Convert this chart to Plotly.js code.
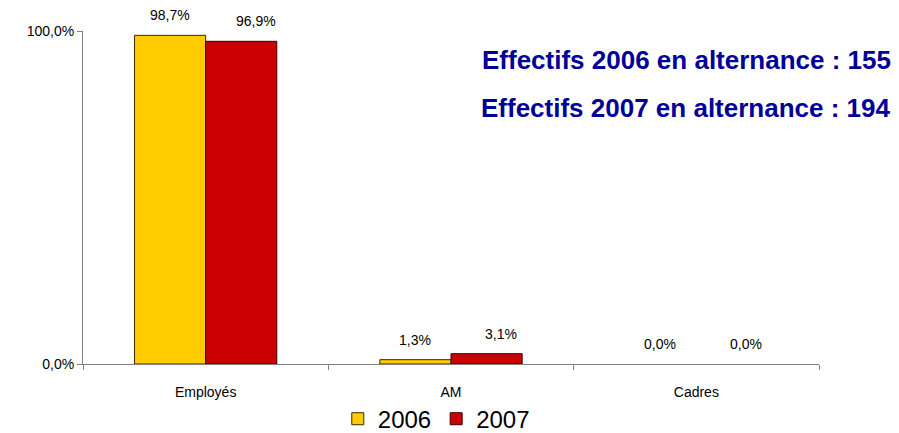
<!DOCTYPE html>
<html>
<head>
<meta charset="utf-8">
<script src="https://cdn.plot.ly/plotly-3.0.1.min.js"></script>
<style>html,body{margin:0;padding:0;background:#fff}#chart{width:899px;height:433px}</style>
</head>
<body>
<div id="chart"></div>
<script>
const categories = ["Employés", "AM", "Cadres"];
const series2006 = [98.7, 1.3, 0.0];
const series2007 = [96.9, 3.1, 0.0];
const seriesNames = ["2006", "2007"];
const yTickValues = [0, 100];
const headlines = ["Effectifs 2006 en alternance : 155", "Effectifs 2007 en alternance : 194"];

const fmt = v => v.toFixed(1).replace(".", ",") + "%";
const FONT = "Liberation Sans, Arial, sans-serif";

const traces = [
  {type: "bar", name: seriesNames[0], x: categories, y: series2006,
   marker: {color: "#FFCC00", line: {color: "#3a2a00", width: series2006.map(v => v > 0 ? 1 : 0)}}, hoverinfo: "none"},
  {type: "bar", name: seriesNames[1], x: categories, y: series2007,
   marker: {color: "#CC0000", line: {color: "#3a0000", width: series2007.map(v => v > 0 ? 1 : 0)}}, hoverinfo: "none"}
];

const annotations = [];
categories.forEach((c, i) => {
  annotations.push({x: c, y: series2006[i], text: fmt(series2006[i]), showarrow: false,
    xshift: -36, yshift: 10, yanchor: "bottom", font: {family: FONT, size: 14, color: "#000"}});
  annotations.push({x: c, y: series2007[i], text: fmt(series2007[i]), showarrow: false,
    xshift: 50, yshift: 10, yanchor: "bottom", font: {family: FONT, size: 14, color: "#000"}});
});
headlines.forEach((t, i) => {
  annotations.push({xref: "paper", yref: "paper", x: 1.1005, xanchor: "right",
    y: i === 0 ? 0.913 : 0.769, yanchor: "middle", text: "<b>" + t + "</b>", showarrow: false,
    font: {family: FONT, size: 26, color: "#000099"}});
});

const layout = {
  width: 899, height: 433,
  margin: {l: 83, r: 80, t: 31, b: 69, autoexpand: false},
  paper_bgcolor: "#fff", plot_bgcolor: "#fff",
  barmode: "group", bargap: 0.42, bargroupgap: 0,
  showlegend: true,
  legend: {orientation: "h", x: 0.48, xanchor: "center", y: -0.098, yanchor: "top",
    bgcolor: "rgba(0,0,0,0)",
    font: {family: FONT, size: 24, color: "#000"}, itemwidth: 30, traceorder: "normal"},
  xaxis: {type: "category", showgrid: false, zeroline: false, showline: true,
    linecolor: "#808080", linewidth: 1, ticks: "outside", tickson: "boundaries",
    ticklen: 5, tickcolor: "#808080", ticklabelstandoff: 15,
    tickfont: {family: FONT, size: 14, color: "#000"}, fixedrange: true},
  yaxis: {range: [0, 100], showgrid: false, zeroline: false, showline: true,
    linecolor: "#808080", linewidth: 1, ticks: "outside", ticklen: 5, tickcolor: "#808080",
    tickvals: yTickValues, ticktext: yTickValues.map(fmt),
    tickfont: {family: FONT, size: 14, color: "#000"}, fixedrange: true},
  annotations: annotations,
  font: {family: FONT}
};

Plotly.newPlot("chart", traces, layout, {displayModeBar: false, staticPlot: true});
</script>
</body>
</html>
